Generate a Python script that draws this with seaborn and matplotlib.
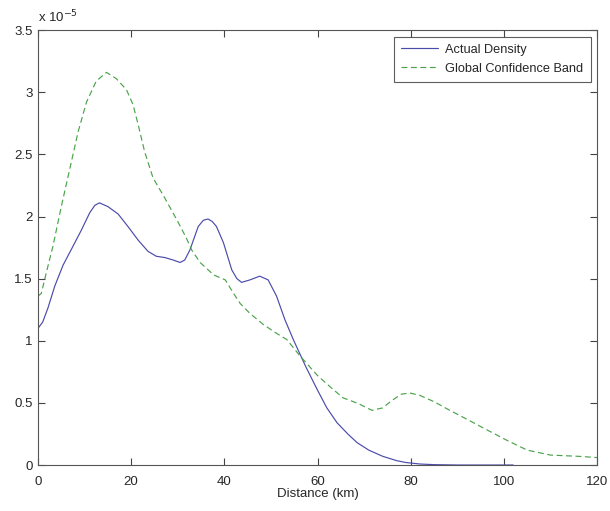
import numpy as np
import pandas as pd
import matplotlib
matplotlib.use("Agg")
import matplotlib.pyplot as plt
import seaborn as sns

# Values in units of 1e-5
actual_x = [0, 1, 2.1, 3.6, 5.4, 7.5, 9.3, 11.1, 12.2, 13.2, 15.0, 17.2, 19.3, 21.5, 23.6, 25.4,
            27.2, 29.0, 30.5, 31.5, 32.6, 34.4, 35.5, 36.5, 37.4, 38.3, 39.8, 41.6, 42.7, 43.7,
            45.5, 47.6, 49.4, 51.2, 53.0, 54.8, 57.5, 59.9, 62, 64.2, 66.5, 68.5, 71, 74, 77,
            79, 82, 85, 90, 102]
actual_y = [1.10, 1.15, 1.26, 1.44, 1.61, 1.76, 1.89, 2.03, 2.09, 2.11, 2.08, 2.02, 1.92, 1.81,
            1.72, 1.68, 1.67, 1.65, 1.63, 1.65, 1.73, 1.92, 1.97, 1.98, 1.96, 1.92, 1.79, 1.57,
            1.50, 1.47, 1.49, 1.52, 1.49, 1.36, 1.17, 1.01, 0.79, 0.61, 0.46, 0.34, 0.25, 0.18,
            0.12, 0.07, 0.035, 0.02, 0.008, 0.003, 0.0, 0.0]

band_x = [0, 0.7, 1.8, 3.2, 5.0, 6.8, 8.6, 10.4, 12.5, 14.7, 16.8, 19.0, 20.4, 21.5, 22.9,
          24.7, 27.2, 30.0, 31.8, 33.0, 34.8, 37.7, 40.2, 42.0, 43.4, 45.5, 48.4, 51.2, 53.4,
          56.2, 60, 63, 65.5, 67, 69, 71.7, 74, 76, 78, 79.8, 82, 85, 88.4, 92, 95.5, 100.6,
          105, 110, 116, 120]
band_y = [1.36, 1.38, 1.55, 1.76, 2.08, 2.38, 2.68, 2.92, 3.09, 3.16, 3.11, 3.02, 2.90, 2.74,
          2.52, 2.31, 2.15, 1.96, 1.83, 1.73, 1.63, 1.53, 1.49, 1.38, 1.30, 1.22, 1.13, 1.06,
          1.01, 0.88, 0.72, 0.62, 0.54, 0.52, 0.49, 0.44, 0.46, 0.52, 0.57, 0.58, 0.56, 0.51,
          0.44, 0.37, 0.30, 0.20, 0.12, 0.08, 0.07, 0.06]

series_names = ["Actual Density", "Global Confidence Band"]
x_ticks = [0, 20, 40, 60, 80, 100, 120]
y_ticks = [0, 0.5, 1, 1.5, 2, 2.5, 3, 3.5]
y_tick_labels = ["0", "0.5", "1", "1.5", "2", "2.5", "3", "3.5"]

df = pd.concat([
    pd.DataFrame({"x": actual_x, "y": actual_y, "series": series_names[0]}),
    pd.DataFrame({"x": band_x, "y": band_y, "series": series_names[1]}),
], ignore_index=True)

sns.set_style("white")
plt.rcParams["font.family"] = ["Liberation Sans", "DejaVu Sans"]

fig = plt.figure(figsize=(6.10, 5.11), dpi=100)
ax = fig.add_axes([0.0623, 0.090, 0.9164, 0.851])

sns.lineplot(data=df, x="x", y="y", hue="series", style="series",
             palette={series_names[0]: "#4b4bab", series_names[1]: "#4aa34a"},
             dashes={series_names[0]: "", series_names[1]: (5, 3)},
             sort=False, estimator=None, linewidth=0.85, ax=ax)

ax.set_xlim(0, 120)
ax.set_ylim(0, 3.5)
ax.set_xticks(x_ticks)
ax.set_yticks(y_ticks)
ax.set_yticklabels(y_tick_labels)
ax.set_xlabel("Distance (km)", fontsize=9.5, labelpad=0)
ax.set_ylabel("")
ax.tick_params(direction="in", length=5, width=0.8, color="#444444",
               labelsize=9.5, top=True, right=True, bottom=True, left=True)
ax.tick_params(axis="x", pad=8)
ax.tick_params(axis="y", pad=4)
for s in ax.spines.values():
    s.set_visible(True)
    s.set_color("#555555")
    s.set_linewidth(0.8)

ax.text(0.0, 1.012, r"x 10$^{-5}$", transform=ax.transAxes, fontsize=9.5,
        ha="left", va="bottom")

leg = ax.legend(loc="upper right", fontsize=9.2, frameon=True, fancybox=False,
                edgecolor="#333333", borderaxespad=0.5, handlelength=2.9,
                handletextpad=0.6, borderpad=0.55, labelspacing=0.55)
leg.get_frame().set_linewidth(0.8)
leg.set_title(None)

fig.savefig("out.png", dpi=100, facecolor="white")
